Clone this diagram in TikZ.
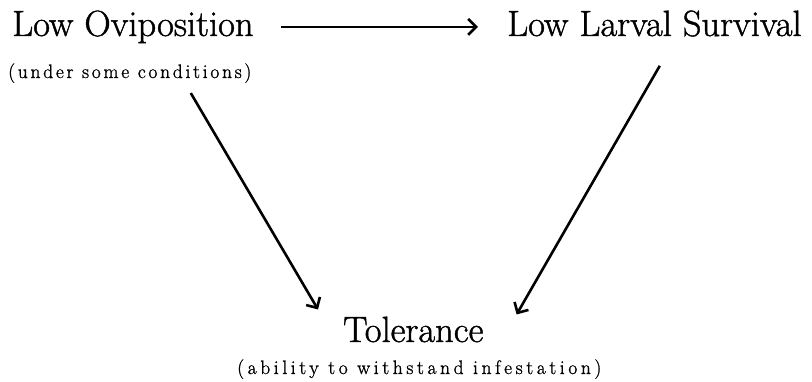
\documentclass[tikz,border=0pt]{standalone}
\usepackage{fontspec}
\newfontfamily\gruesa[FakeBold=1.2]{Latin Modern Roman}
\newfontfamily\espaciada[LetterSpace=14,FakeBold=1.2]{Latin Modern Roman}
\newfontfamily\muyespaciada[LetterSpace=18.5,FakeBold=1.2]{Latin Modern Roman}
\usetikzlibrary{arrows.meta}
\tikzset{
  titulo/.style={anchor=base west, inner sep=0pt, font=\gruesa\fontsize{36.5}{40}\selectfont},
  nota/.style={anchor=base west, inner sep=0pt},
  flecha/.style={line width=2.6pt, -{Straight Barb[length=8pt, width=16pt, line width=2.6pt]}}
}
\begin{document}
\begin{tikzpicture}[x=1pt, y=-1pt]
    \useasboundingbox (0,0) rectangle (812,382);

    % Nodos de arriba
    \node[titulo] (ovi) at (12,36) {Low Oviposition};
    \node[nota, font=\espaciada\fontsize{19.5}{22}\selectfont] (cond) at (8,78) {(under some conditions)};
    \node[titulo] (larva) at (507,36) {Low Larval Survival};

    % Nodo de abajo
    \node[titulo] (tol) at (343,342) {Tolerance};
    \node[nota, font=\muyespaciada\fontsize{19.5}{22}\selectfont] (capaz) at (237,374) {(ability to withstand infestation)};

    % Flechas
    \draw[flecha] ([xshift=27pt,yshift=7pt]ovi.mid east) -- ([xshift=-29pt,yshift=7pt]larva.mid west);
    \draw[flecha] ([xshift=61pt,yshift=-10pt]cond.south) -- ([xshift=-25pt,yshift=7pt]tol.north west);
    \draw[flecha] ([xshift=-142pt,yshift=-29pt]larva.south east) -- ([xshift=33pt,yshift=2pt]tol.north east);
\end{tikzpicture}
\end{document}
